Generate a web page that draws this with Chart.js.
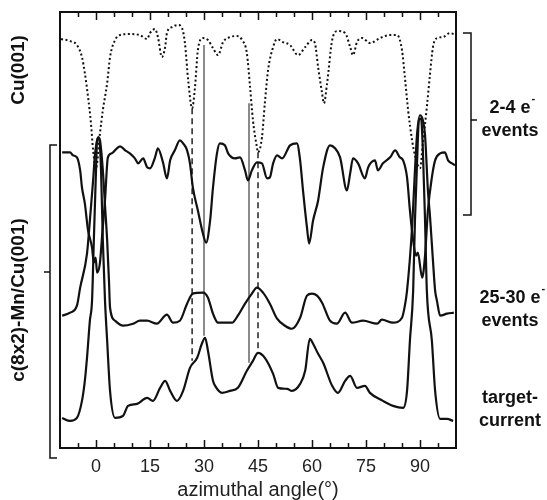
<!DOCTYPE html>
<html lang="en">
<head>
<meta charset="UTF-8">
<title>Azimuthal scans</title>
<script src="https://cdn.jsdelivr.net/npm/chart.js"></script>
<style>
  html, body { margin: 0; padding: 0; background: #fff; }
  #wrap { width: 547px; height: 500px; }
</style>
</head>
<body>
<div id="wrap"><canvas id="myChart" width="547" height="500"></canvas></div>
<script>
// azimuthal angle (deg) / intensity (arb. units)
const cuAngle = [-9.7,-7.2,-5.3,-3.9,-3.1,-2.2,-1.4,-0.8,0,1.1,1.9,3.1,3.9,5.3,6.7,9.4,12.2,14.2,15.0,16.4,17.2,18.3,19.2,19.7,21.1,22.8,23.9,24.7,25.6,26.7,27.5,28.3,29.7,31.1,32.5,33.9,35.3,37.2,39.2,40.6,41.9,42.8,43.6,44.7,45.0,46.1,46.9,47.8,49.2,50.3,51.9,53.9,56.1,58.1,60.0,60.8,61.7,62.8,63.3,64.2,65.6,67.2,69.2,70.6,71.4,72.5,73.9,76.1,78.9,81.7,83.6,85.0,85.8,86.7,87.8,88.6,90.0,90.8,91.9,92.8,93.6,94.7,96.4,98.3,99.4];
const cuValues = [408,406,402,390,374,350,324,297,279,314,337,364,390,407,412,413,412,408,414,418,410,390,400,414,420,422,419,404,367,339,360,397,409,407,399,392,405,410,411,407,394,360,327,300,295,310,344,377,400,408,405,402,392,400,407,404,380,354,344,364,407,416,414,400,392,405,409,404,409,412,412,397,370,337,307,292,279,304,340,374,400,409,410,414,413];

const lowAngle = [-9.4,-7.2,-6.4,-5.3,-4.4,-3.9,-3.1,-2.2,-1.1,-0.6,-0.1,0.3,1.1,1.7,2.5,3.3,4.4,5.8,6.7,8.1,9.4,10.8,11.7,13.1,14.2,15.0,16.4,17.2,18.6,19.7,20.6,21.9,23.3,24.2,25.3,26.1,26.9,28.3,29.7,30.6,31.7,32.5,33.6,34.4,35.8,36.7,38.6,40.0,41.4,42.2,43.3,44.7,46.1,47.5,48.3,49.2,50.3,51.7,53.9,55.8,56.7,57.5,58.6,59.2,60.3,61.7,63.1,65.0,66.4,67.8,69.7,70.6,71.4,72.8,74.7,75.6,77.5,78.3,79.7,81.7,83.1,84.4,85.3,86.4,87.2,88.1,88.9,89.4,90.6,91.4,92.2,93.3,94.2,95.6,96.9,97.8,98.9,99.7];
const lowValues = [295,295,292,290,277,260,244,217,200,185,190,175,185,212,247,290,294,299,301,297,294,289,284,289,280,279,290,299,285,269,287,297,307,304,297,284,260,237,214,205,227,260,294,304,302,294,289,290,277,267,277,285,284,269,270,284,292,289,302,304,287,257,220,204,227,247,280,302,299,290,257,274,289,284,269,280,287,277,284,290,297,290,287,270,237,207,192,195,170,192,237,270,287,294,295,287,284,282];

const highAngle = [-9.4,-7.2,-5.3,-4.4,-2.5,-1.7,-0.8,-0.3,0.6,1.1,1.9,2.5,3.1,3.6,3.9,5.3,7.5,10.3,12.2,14.2,16.9,19.7,21.4,23.3,25.3,26.9,29.7,31.1,32.5,33.9,35.8,37.8,39.4,41.4,43.3,44.7,46.4,48.3,50.3,52.5,54.4,56.7,58.6,60.0,61.4,62.8,65.0,66.9,69.2,71.1,74.2,78.1,79.4,82.5,85.0,85.8,86.4,87.8,88.6,89.2,90.0,90.8,91.4,92.2,92.8,93.6,94.2,94.7,95.6,97.5,99.4];
const highValues = [132,135,142,160,194,227,267,292,310,307,277,242,207,167,140,127,122,124,127,127,124,133,125,127,144,154,155,150,134,125,125,125,132,144,154,160,155,144,129,122,119,130,152,154,152,145,127,124,135,125,127,124,128,125,130,142,157,220,277,314,332,327,312,257,230,187,157,147,132,134,135];

const tcAngle = [-9.4,-7.2,-5.3,-3.9,-3.1,-2.5,-1.7,-1.1,-0.6,0,0.3,0.8,1.4,1.9,2.5,3.1,3.9,5.3,7.5,8.9,11.4,14.2,15.8,17.8,19.2,20.6,22.5,24.2,26.1,28.1,29.4,30.3,31.1,32.5,33.1,35.0,37.2,39.4,41.9,43.6,45.0,46.9,49.2,50.6,53.1,54.4,56.7,58.1,59.4,60.3,61.7,63.1,65.6,67.2,69.2,70.6,72.5,74.7,76.1,79.7,82.5,85.3,86.4,87.2,88.1,88.6,89.2,89.7,90.3,90.8,91.4,91.9,93.3,94.2,95.6,97.5,99.2];
const tcValues = [30,27,30,47,67,90,127,147,207,277,307,310,277,207,147,107,57,30,32,42,44,50,47,60,67,57,47,57,80,90,104,110,97,67,62,55,57,60,77,87,95,90,74,60,59,57,64,77,109,104,94,85,62,55,67,72,60,62,55,47,42,40,57,107,157,227,287,327,329,297,227,157,107,57,29,29,27];

// guide lines: angle, top and bottom intensity
const guideAngles = [26.7, 30, 42.5, 45];
const guideTop = [339, 402, 344, 295];
const guideBottom = [87, 112, 85, 97];
const guideDashed = [true, false, false, true];

const xTicks = [0, 15, 30, 45, 60, 75, 90];

function pts(xs, ys) { return xs.map((x, i) => ({ x: x, y: ys[i] })); }

const curve = { borderColor: '#111', borderWidth: 2.2, cubicInterpolationMode: 'monotone' };
const datasets = [
  { ...curve, label: 'Cu(001)', data: pts(cuAngle, cuValues), borderWidth: 2, borderDash: [2, 2.5] },
  { ...curve, label: '2-4 e- events', data: pts(lowAngle, lowValues) },
  { ...curve, label: '25-30 e- events', data: pts(highAngle, highValues) },
  { ...curve, label: 'target-current', data: pts(tcAngle, tcValues) }
];
guideAngles.forEach((a, i) => {
  datasets.push({
    label: 'guide' + i,
    data: [{ x: a, y: guideTop[i] }, { x: a, y: guideBottom[i] }],
    borderColor: guideDashed[i] ? '#222' : '#8a8a8a',
    borderWidth: guideDashed[i] ? 1.5 : 2,
    borderDash: guideDashed[i] ? [6, 4] : []
  });
});

const BOLD = 'bold 18px "Liberation Sans", Arial, sans-serif';

const frame = {
  id: 'frame',
  afterDraw(chart) {
    const { ctx, chartArea: a, scales: { x } } = chart;
    ctx.save();
    ctx.strokeStyle = '#111';
    ctx.lineWidth = 2;
    ctx.strokeRect(a.left, a.top, a.right - a.left, a.bottom - a.top);
    // inward ticks, top and bottom
    ctx.lineWidth = 1.5;
    for (let v = -5; v <= 95; v += 5) {
      const px = Math.round(x.getPixelForValue(v)) + 0.5;
      const len = v % 15 === 0 ? 8 : 5;
      ctx.beginPath();
      ctx.moveTo(px, a.bottom); ctx.lineTo(px, a.bottom - len);
      ctx.moveTo(px, a.top); ctx.lineTo(px, a.top + len);
      ctx.stroke();
    }
    // brackets
    ctx.lineWidth = 1.5;
    ctx.beginPath();
    ctx.moveTo(57, 145); ctx.lineTo(50, 145); ctx.lineTo(50, 458); ctx.lineTo(57, 458);
    ctx.moveTo(50, 272); ctx.lineTo(44, 272);
    ctx.moveTo(463, 33); ctx.lineTo(471, 33); ctx.lineTo(471, 215); ctx.lineTo(463, 215);
    ctx.moveTo(471, 120); ctx.lineTo(477, 120);
    ctx.stroke();
    // left labels
    ctx.fillStyle = '#111';
    ctx.font = 'bold 19px "Liberation Sans", Arial, sans-serif';
    ctx.textAlign = 'center';
    ctx.textBaseline = 'middle';
    [['Cu(001)', 70], ['c(8x2)-Mn/Cu(001)', 300]].forEach(([t, y]) => {
      ctx.save();
      ctx.translate(19, y);
      ctx.rotate(-Math.PI / 2);
      ctx.fillText(t, 0, 0);
      ctx.restore();
    });
    // right labels
    ctx.font = BOLD;
    const right = [['2-4 e', true, 108], ['events', false, 131], ['25-30 e', true, 298], ['events', false, 321], ['target-', false, 398], ['current', false, 421]];
    right.forEach(([t, sup, y]) => {
      ctx.textAlign = 'center';
      ctx.fillText(t, 510, y);
      if (sup) {
        const w = ctx.measureText(t).width;
        ctx.font = 'bold 11px "Liberation Sans", Arial, sans-serif';
        ctx.textAlign = 'left';
        ctx.fillText('-', 510 + w / 2 + 1, y - 9);
        ctx.font = BOLD;
      }
    });
    ctx.restore();
  }
};

new Chart(document.getElementById('myChart').getContext('2d'), {
  type: 'line',
  data: { datasets: datasets },
  options: {
    responsive: false,
    animation: false,
    layout: { padding: { left: 60, right: 91, top: 12, bottom: 0 } },
    elements: { point: { radius: 0 }, line: { tension: 0 } },
    plugins: { legend: { display: false }, tooltip: { enabled: false } },
    scales: {
      x: {
        type: 'linear', min: -10, max: 100,
        afterBuildTicks: axis => { axis.ticks = xTicks.map(v => ({ value: v })); },
        grid: { display: false, drawTicks: false },
        border: { display: false },
        ticks: { padding: 10, color: '#222', font: { family: '"Liberation Sans", Arial, sans-serif', size: 18, lineHeight: 1 } },
        title: { display: true, text: 'azimuthal angle(°)', color: '#222', padding: { top: -6, bottom: 0 },
          font: { family: '"Liberation Sans", Arial, sans-serif', size: 20, lineHeight: 1 } }
      },
      y: { type: 'linear', min: 0, max: 435, display: false }
    }
  },
  plugins: [frame]
});
</script>
</body>
</html>
